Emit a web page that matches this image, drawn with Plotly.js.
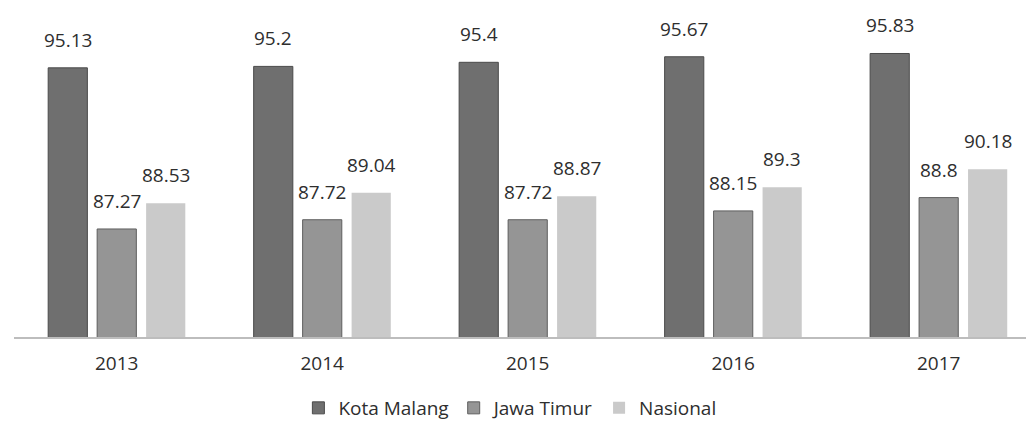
<!DOCTYPE html>
<html>
<head>
<meta charset="utf-8">
<script src="https://cdn.plot.ly/plotly-3.0.1.min.js"></script>
<style>
  html, body { margin: 0; padding: 0; background: #ffffff; }
  #chart { width: 1026px; height: 423px; }
</style>
</head>
<body>
<div id="chart"></div>
<script>
// ---- data ----
const years = ["2013", "2014", "2015", "2016", "2017"];
const seriesNames = ["Kota Malang", "Jawa Timur", "Nasional"];
const kotaMalang = [95.13, 95.2, 95.4, 95.67, 95.83];
const jawaTimur = [87.27, 87.72, 87.72, 88.15, 88.8];
const nasional = [88.53, 89.04, 88.87, 89.3, 90.18];

// ---- style ----
const colors = ["#6f6f6f", "#959595", "#cacaca"];
const lineColors = ["#4a4a4a", "#5e5e5e", "#cacaca"];
const fontFamily = "'Open Sans', 'Noto Sans', sans-serif";
const textColor = "#2e2e2e";

const W = 1026, H = 423;
const margin = { l: 14, r: 0, t: 9, b: 86 };
const xRange = [-0.5, 4.425];
const bargap = 0.285;
const plotW = W - margin.l - margin.r;
const catPx = plotW / (xRange[1] - xRange[0]);
const slotPx = catPx * (1 - bargap) / 3;

const allSeries = [kotaMalang, jawaTimur, nasional];

const traces = allSeries.map((vals, s) => ({
  type: "bar",
  name: seriesNames[s],
  x: years,
  y: vals,
  marker: { color: colors[s], line: { color: lineColors[s], width: s < 2 ? 1 : 0 } },
  hoverinfo: "skip"
}));

const annotations = [];
allSeries.forEach((vals, s) => {
  vals.forEach((v, i) => {
    annotations.push({
      x: i, y: v, xref: "x", yref: "y",
      text: String(v),
      showarrow: false,
      xanchor: "center", yanchor: "bottom",
      xshift: (s - 1) * slotPx,
      yshift: 13,
      font: { family: fontFamily, size: 19, color: textColor }
    });
  });
});

const layout = {
  width: W, height: H,
  margin: margin,
  paper_bgcolor: "#ffffff",
  plot_bgcolor: "#ffffff",
  barmode: "group",
  bargap: bargap,
  bargroupgap: 0.2,
  showlegend: true,
  legend: {
    orientation: "h",
    x: 0.49, xanchor: "center", xref: "paper",
    y: 15 / H, yanchor: "middle", yref: "container",
    font: { family: fontFamily, size: 19, color: textColor },
    itemwidth: 30
  },
  xaxis: {
    type: "category",
    range: xRange,
    showline: true,
    linecolor: "#bdbdbd",
    linewidth: 2,
    ticks: "",
    showgrid: false,
    zeroline: false,
    tickfont: { family: fontFamily, size: 19, color: textColor },
    ticklabelstandoff: 8
  },
  yaxis: {
    range: [82, 98],
    visible: false,
    showgrid: false,
    zeroline: false
  },
  annotations: annotations
};

Plotly.newPlot("chart", traces, layout, { displayModeBar: false, staticPlot: true });
</script>
</body>
</html>
